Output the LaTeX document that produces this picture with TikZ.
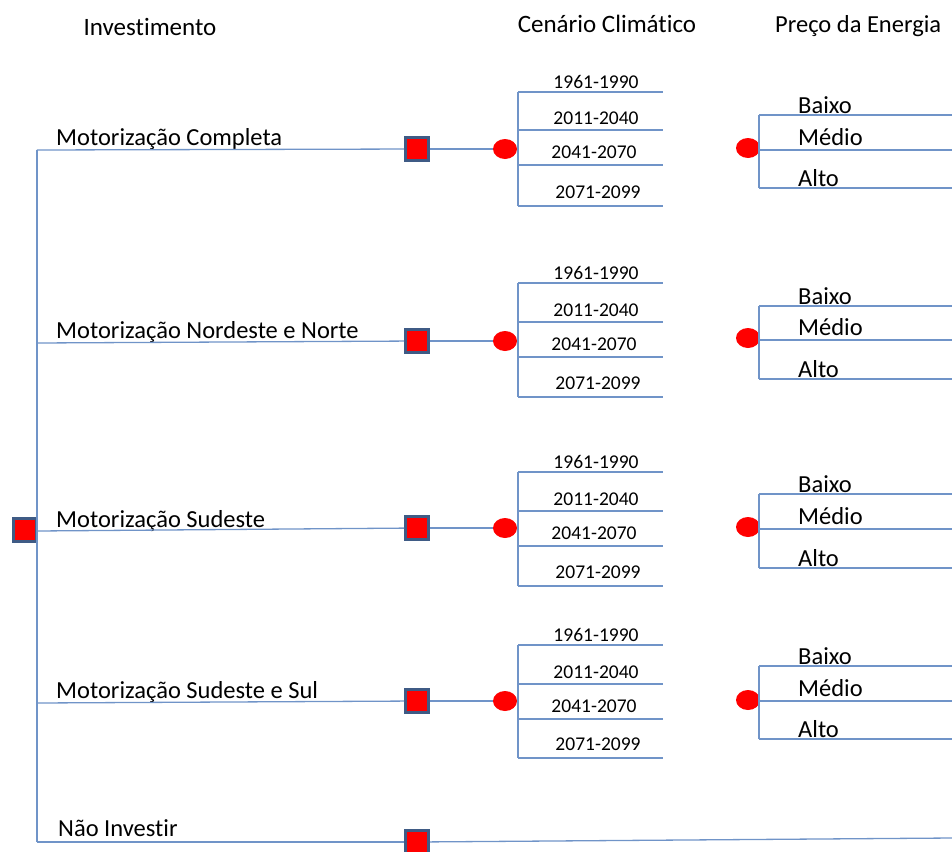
\documentclass[tikz,border=0pt]{standalone}
\usepackage{fontspec}
\setmainfont[Ligatures=NoCommon]{Carlito}
\usetikzlibrary{shapes.geometric}
\definecolor{ln}{HTML}{7094C8}
\definecolor{bd}{HTML}{3F5B85}
\begin{document}
\begin{tikzpicture}[x=1pt,y=-1pt,
  dec/.style={draw=bd, line width=3pt, fill=red, minimum size=23pt, inner sep=0pt},
  chn/.style={ellipse, fill=red, minimum width=24pt, minimum height=20pt, inner sep=0pt},
  br/.style={draw=ln, line width=1.3pt},
  lbl/.style={font=\fontsize{24.5}{28}\selectfont, anchor=base west, inner sep=0pt},
  ttl/.style={font=\fontsize{25}{28}\selectfont, anchor=base, inner sep=0pt},
  per/.style={font=\fontsize{19.5}{22}\selectfont, anchor=base, inner sep=0pt},
]
\useasboundingbox (0,0) rectangle (952,851);
% titles
\node[ttl] (tInv) at (150,36) {Investimento};
\node[ttl] (tCen) at (607,33) {Cenário Climático};
\node[lbl] (tPre) at (775,33) {Preço da Energia};
% root and trunk
\node[dec] (root) at (25,530) {};
\coordinate (tTop) at (37,150);
\coordinate (tBot) at (37,842);
\draw[br] (tTop) -- (tBot);
% investment branches
\foreach \g/\ty/\sy/\ly/\cy/\a/\b/\c/\d/\pc/\pa/\pb/\pd/\txt in {
  1/150/149/145/149/92/130/165/206/148/115/150/188/{Motorização Completa},
  2/343/341/338/341/283/322/357/397/338/306/340/379/{Motorização Nordeste e Norte},
  3/531/528/527/528/472/511/546/586/527/494/529/568/{Motorização Sudeste},
  4/703/701/698/701/645/684/719/758/700/666/701/739/{Motorização Sudeste e Sul}}{
  \coordinate (t\g) at (37,\ty);
  \node[dec] (s\g) at (417,\sy) {};
  \node[lbl] (l\g) at (56,\ly) {\txt};
  \node[chn] (c\g) at (505,\cy) {};
  \draw[br] (t\g) -- (s\g);
  \draw[br] (s\g) -- (c\g);
  % climate scenario fan
  \coordinate (ca\g) at (518,\a);
  \coordinate (cb\g) at (518,\b);
  \coordinate (cc\g) at (518,\c);
  \coordinate (cd\g) at (518,\d);
  \coordinate (ea\g) at (663,\a);
  \coordinate (eb\g) at (663,\b);
  \coordinate (ec\g) at (663,\c);
  \coordinate (ed\g) at (663,\d);
  \draw[br] (ca\g) -- (cd\g);
  \draw[br] (ca\g) -- (ea\g);
  \draw[br] (cb\g) -- (eb\g);
  \draw[br] (cc\g) -- (ec\g);
  \draw[br] (cd\g) -- (ed\g);
  \node[per] (ya\g) at (596,\a-4) {1961-1990};
  \node[per] (yb\g) at (596,\b-6) {2011-2040};
  \node[per] (yc\g) at (594,\c-7) {2041-2070};
  \node[per] (yd\g) at (598,\d-8) {2071-2099};
  % energy price fan
  \node[chn] (p\g) at (748,\pc) {};
  \coordinate (pa\g) at (759,\pa);
  \coordinate (pb\g) at (759,\pb);
  \coordinate (pd\g) at (759,\pd);
  \coordinate (qa\g) at (952,\pa);
  \coordinate (qb\g) at (952,\pb);
  \coordinate (qd\g) at (952,\pd);
  \draw[br] (pa\g) -- (pd\g);
  \draw[br] (pa\g) -- (qa\g);
  \draw[br] (pb\g) -- (qb\g);
  \draw[br] (pd\g) -- (qd\g);
  \node[lbl] (ba\g) at (798,\pa-2) {Baixo};
  \node[lbl] (bb\g) at (798,\pb-5) {Médio};
  \node[lbl] (bd\g) at (798,\pd-2) {Alto};
}
% no investment
\coordinate (t5) at (37,842);
\node[dec] (s5) at (417,842) {};
\coordinate (e5) at (952,838);
\node[lbl] (l5) at (58,836) {Não Investir};
\draw[br] (t5) -- (s5);
\draw[br] (s5) -- (e5);
\end{tikzpicture}
\end{document}
